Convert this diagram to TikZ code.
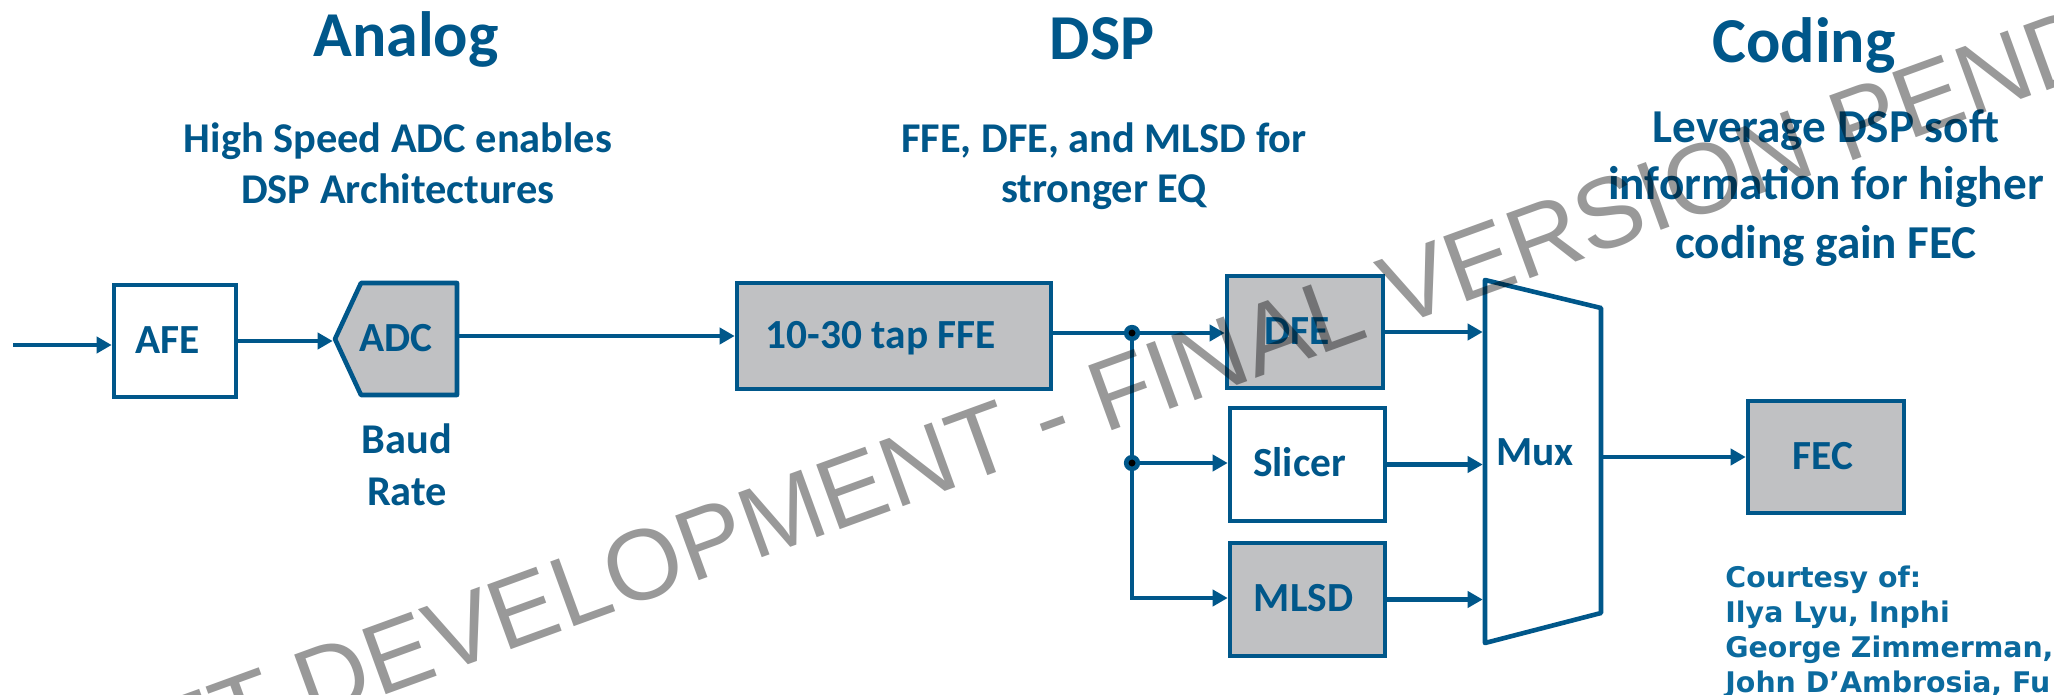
\documentclass[tikz,border=0pt]{standalone}
\usepackage{fontspec}
\setmainfont{Carlito}
\newfontfamily\wmfont{Liberation Sans}
\newfontfamily\credfont{DejaVu Sans}
\usetikzlibrary{arrows.meta}
\definecolor{ieeeblue}{HTML}{00578A}
\definecolor{credblue}{HTML}{0B6A9E}
\definecolor{boxgray}{HTML}{C0C1C3}
\newcommand\mytitlefont{\bfseries\fontsize{32}{38}\selectfont}
\newcommand\mysubfont{\bfseries\fontsize{21.2}{25}\selectfont}
\newcommand\mycodefont{\bfseries\fontsize{23.6}{28}\selectfont}
\newcommand\myboxfont{\bfseries\fontsize{20.7}{24}\selectfont}
\begin{document}
\begin{tikzpicture}[x=0.5pt,y=-0.5pt,
  line/.style={draw=ieeeblue, line width=2.2pt},
  arr/.style={draw=ieeeblue, line width=2.2pt, -{Triangle[length=7.5pt,width=8pt]}},
  blk/.style={rectangle, draw=ieeeblue, line width=2.3pt, text=ieeeblue, font=\myboxfont, inner sep=0pt, text height=12.4pt, text depth=0pt},
  grayblk/.style={blk, fill=boxgray},
  shapeline/.style={draw=ieeeblue, line width=2.3pt, line join=round},
  titletxt/.style={text=ieeeblue, font=\mytitlefont, anchor=base, inner sep=0pt},
  subtxt/.style={text=ieeeblue, font=\mysubfont, anchor=base, inner sep=0pt},
  codetxt/.style={text=ieeeblue, font=\mycodefont, anchor=base, inner sep=0pt},
  credit/.style={text=credblue, font=\credfont\bfseries\fontsize{14.2}{17}\selectfont, anchor=base west, inner sep=0pt},
  junc/.style={circle, fill=black, draw=ieeeblue, line width=2.3pt, inner sep=0pt, minimum size=5.8pt},
]
\useasboundingbox (0,0) rectangle (2054,695);
\fill[white] (0,0) rectangle (2054,695);
\clip (0,0) rectangle (2054,695);

% titles
\node[titletxt] (tA) at (406,57) {Analog};
\node[titletxt] (tD) at (1102,60) {DSP};
\node[titletxt] (tC) at (1804,63) {Coding};

% subtitles
\node[subtxt] (sA1) at (398,153) {High Speed ADC enables};
\node[subtxt] (sA2) at (398,204) {DSP Architectures};
\node[subtxt] (sD1) at (1104,153) {FFE, DFE, and MLSD for};
\node[subtxt] (sD2) at (1104,203) {stronger EQ};
\node[codetxt] (sC1) at (1826,143) {Leverage DSP soft};
\node[codetxt] (sC2) at (1826,200) {information for higher};
\node[codetxt] (sC3) at (1826,258) {coding gain FEC};
\node[subtxt] (baud) at (407,453) {Baud};
\node[subtxt] (rate) at (407,505) {Rate};

% blocks
\node[blk, minimum width=61pt, minimum height=56pt] (afe) at (175,341) {AFE\hspace*{7pt}};
\draw[shapeline, fill=boxgray] (335,339) -- (361,283) -- (457,283) -- (457,395) -- (361,395) -- cycle;
\node[blk, draw=none, minimum width=61pt, minimum height=56pt] (adc) at (396,339) {ADC};
\node[grayblk, minimum width=157pt, minimum height=53pt] (ffe) at (894,336) {10-30 tap FFE\hspace*{13pt}};
\node[grayblk, minimum width=78pt, minimum height=56pt] (dfe) at (1305,332) {DFE\hspace*{8pt}};
\node[blk, fill=white, minimum width=77.5pt, minimum height=56.5pt] (slicer) at (1307.5,464.5) {Slicer\hspace*{8pt}};
\node[grayblk, minimum width=77.5pt, minimum height=56.5pt] (mlsd) at (1307.5,599.5) {MLSD\hspace*{4pt}};
\draw[shapeline, fill=white] (1485,280) -- (1601,308) -- (1601,613) -- (1485,643) -- cycle;
\node[blk, draw=none, minimum width=58pt, minimum height=150pt] (mux) at (1543,453) {Mux\hspace*{8pt}};
\node[grayblk, minimum width=78pt, minimum height=56pt] (fec) at (1826,457) {FEC\hspace*{3pt}};

% connectors
\coordinate (src) at (13,345);
\coordinate (j1) at (1132,333);
\coordinate (j2) at (1132,463);
\coordinate (j3) at (1132,598);
\draw[arr] (src) -- (src -| afe.west);
\draw[arr] (afe.east) -- (afe.east -| adc.west);
\draw[arr] (ffe.west -| adc.east) -- (ffe.west);
\draw[line] (ffe.east |- j1) -- (j1);
\draw[arr] (j1) -- (j1 -| dfe.west);
\draw[arr] (j1) -- (j3) -- (j3 -| mlsd.west);
\draw[arr] (j2) -- (j2 -| slicer.west);
\draw[arr] (dfe.east) -- (dfe.east -| mux.west);
\draw[arr] (slicer.east) -- (slicer.east -| mux.west);
\draw[arr] (mlsd.east) -- (mlsd.east -| mux.west);
\draw[arr] (fec.west -| mux.east) -- (fec.west);
\node[junc] (d1) at (j1) {};
\node[junc] (d2) at (j2) {};

% credits
\node[credit] (c1) at (1725,587) {Courtesy of:};
\node[credit] (c2) at (1725,622) {Ilya Lyu, Inphi};
\node[credit] (c3) at (1725,657) {George Zimmerman,};
\node[credit] (c4) at (1725,692) {John D’Ambrosia, Fu};

% watermark
\node[anchor=base west, rotate=20, inner sep=0pt, font=\wmfont\fontsize{50}{60}\selectfont, text=black, text opacity=0.4] (wm) at (-29,846) {DRAFT DEVELOPMENT - FINAL VERSION PENDING};
\end{tikzpicture}
\end{document}
